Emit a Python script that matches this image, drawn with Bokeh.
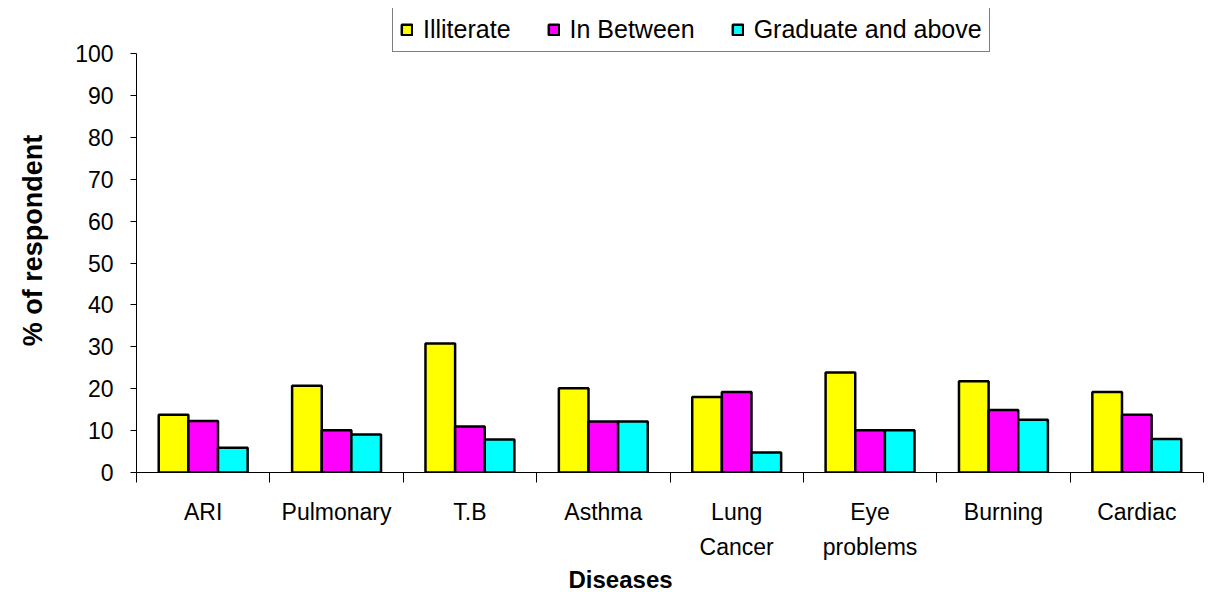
import numpy as np
from bokeh.plotting import figure
from bokeh.models import FixedTicker, Legend, LegendItem, Range1d, Title, ColumnDataSource
from bokeh.embed import file_html
from bokeh.resources import INLINE

# ---- data ----
categories = ["ARI", "Pulmonary", "T.B", "Asthma", "Lung\nCancer", "Eye\nproblems", "Burning", "Cardiac"]
illiterate = [13.8, 20.7, 30.8, 20.1, 18.0, 23.9, 21.8, 19.2]
in_between = [12.3, 10.1, 11.0, 12.2, 19.2, 10.1, 14.9, 13.8]
graduate = [5.9, 9.1, 7.9, 12.2, 4.8, 10.1, 12.6, 8.0]
series_names = ["Illiterate", "In Between", "Graduate and above"]
series_colors = ["#FFFF00", "#FF00FF", "#00FFFF"]
y_ticks = list(range(0, 101, 10))
x_title = "Diseases"
y_title = "% of respondent"

FONT = "Liberation Sans"
n = len(categories)
centers = np.arange(n) + 0.5
bar_w = 1 / 4.5

# frame extends above 100 so the legend can sit there; the axis line stops at 100
p = figure(width=1209, height=592, output_backend="svg", toolbar_location=None,
           x_range=Range1d(0, n), y_range=Range1d(0, 110.8),
           min_border_left=136, min_border_right=6, min_border_top=8, min_border_bottom=120,
           background_fill_color="white", border_fill_color="white")
p.outline_line_color = None
p.grid.visible = False

renderers = []
for k, (vals, col) in enumerate(zip([illiterate, in_between, graduate], series_colors)):
    src = ColumnDataSource(dict(x=centers + (k - 1) * bar_w, top=vals))
    r = p.vbar(x="x", top="top", width=bar_w, bottom=0, source=src,
               fill_color=col, line_color="black", line_width=2.5)
    renderers.append(r)

# x axis: labels at category centres, tick marks at category boundaries
xa = p.xaxis[0]
xa.ticker = FixedTicker(ticks=list(centers), minor_ticks=list(range(n + 1)))
xa.major_label_overrides = {float(c): lab for c, lab in zip(centers, categories)}
xa.major_tick_out = 0
xa.major_tick_in = 0
xa.minor_tick_out = 10
xa.minor_tick_in = 0
xa.minor_tick_line_color = "black"
xa.axis_line_color = "black"
xa.major_label_text_font = FONT
xa.major_label_text_font_size = "23px"
xa.major_label_text_color = "black"
xa.major_label_text_line_height = 1.37
xa.major_label_standoff = 16

ya = p.yaxis[0]
ya.ticker = FixedTicker(ticks=y_ticks)
ya.bounds = (0, 100)
ya.major_tick_out = 6
ya.major_tick_in = 0
ya.minor_tick_line_color = None
ya.axis_line_color = "black"
ya.major_tick_line_color = "black"
ya.major_label_text_font = FONT
ya.major_label_text_font_size = "23px"
ya.major_label_text_color = "black"
ya.major_label_standoff = 17
ya.axis_label = y_title
ya.axis_label_text_font = FONT
ya.axis_label_text_font_size = "27px"
ya.axis_label_text_font_style = "bold"
ya.axis_label_text_color = "black"
ya.axis_label_standoff = 24

p.add_layout(Title(text=x_title, align="left", offset=432, standoff=0,
                   text_font=FONT, text_font_size="24px", text_font_style="bold",
                   text_color="black"), "below")

legend = Legend(items=[LegendItem(label=nm, renderers=[r]) for nm, r in zip(series_names, renderers)],
                orientation="horizontal", location=(256, 420),
                label_text_font=FONT, label_text_font_size="25px", label_text_color="black",
                glyph_width=13, glyph_height=13, label_standoff=10, spacing=36, padding=7, margin=0,
                border_line_color="black", border_line_width=1, background_fill_color="white",
                background_fill_alpha=1)
p.add_layout(legend, "center")

open("out.html", "w").write(file_html(p, INLINE))
